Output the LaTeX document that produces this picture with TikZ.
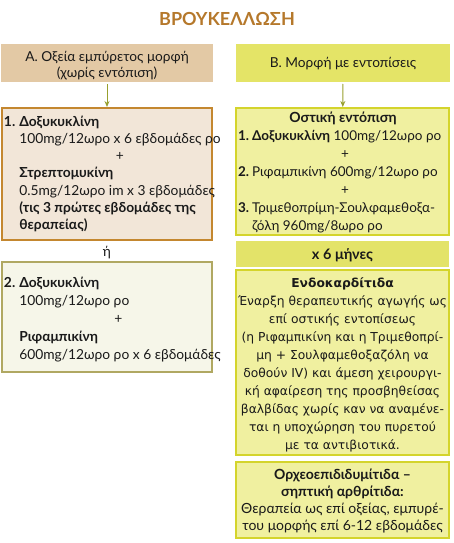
\documentclass[tikz,border=0pt]{standalone}
\usepackage{fontspec}
\setmainfont{Lato}
\newfontfamily\vfont{DejaVu Sans}
\usetikzlibrary{arrows.meta}
\definecolor{titlec}{HTML}{B5782B}
\definecolor{hAfill}{HTML}{E3C9A5}
\definecolor{hBfill}{HTML}{E4E467}
\definecolor{aonefill}{HTML}{F2E6D8}
\definecolor{aonedraw}{HTML}{C4872F}
\definecolor{atwofill}{HTML}{F6F6E9}
\definecolor{atwodraw}{HTML}{B0A862}
\definecolor{bfill}{HTML}{F0F0A0}
\definecolor{bdraw}{HTML}{D4D42C}
\definecolor{bsixfill}{HTML}{E3E369}
\definecolor{arrc}{HTML}{98A02E}
\definecolor{txt}{HTML}{1A1A1A}
\begin{document}
\begin{tikzpicture}[x=1pt,y=-1pt,
  boxshape/.style={rectangle, inner sep=0pt, outer sep=0pt, line width=1.1pt},
  txtnode/.style={inner sep=0pt, outer sep=0pt, text=txt},
  gill/.style={font=\fontsize{13.8}{17.3}\selectfont},
  arr/.style={draw=arrc, line width=1pt, -{Stealth[length=6pt,width=5pt]}, shorten <=2pt, shorten >=1pt}]
\useasboundingbox (0,0) rectangle (454,543);
% title
\node[txtnode, anchor=base, text=titlec, font=\fontsize{18}{20}\selectfont\bfseries] (title) at (227,26) {ΒΡΟΥΚΕΛΛΩΣΗ};
% header boxes
\node[boxshape, fill=hAfill, minimum width=212pt, minimum height=38pt] (hA) at (107,63) {};
\node[boxshape, fill=hBfill, minimum width=214pt, minimum height=38pt] (hB) at (343,63) {};
\node[txtnode, anchor=base, font=\fontsize{13.7}{17}\selectfont] (hAt) at (107,61) {\begin{tabular}[t]{@{}c@{}}Α. Οξεία εμπύρετος μορφή\\(χωρίς εντόπιση)\end{tabular}};
\node[txtnode, anchor=base, font=\fontsize{13.7}{17}\selectfont] (hBt) at (343,67) {Β. Μορφή με εντοπίσεις};
% left boxes
\node[boxshape, draw=aonedraw, fill=aonefill, minimum width=210pt, minimum height=132pt] (a1) at (107,174) {};
\node[boxshape, draw=atwodraw, fill=atwofill, minimum width=210pt, minimum height=110pt] (a2) at (107,317) {};
\node[txtnode, anchor=base west, gill] (a1t) at (4,126) {\begin{tabular}[t]{@{}l@{\hspace{4pt}}l@{}}
\textbf{1.} & \textbf{Δοξυκυκλίνη}\\
 & 100mg/12ωρο x 6 εβδομάδες ρο\\
 & \multicolumn{1}{c}{+}\\
 & \textbf{Στρεπτομυκίνη}\\
 & 0.5mg/12ωρο im x 3 εβδομάδες\\
 & \textbf{(τις 3 πρώτες εβδομάδες της}\\
 & \textbf{θεραπείας)}
\end{tabular}};
\node[txtnode, anchor=base, gill] (or) at (107,256) {ή};
\node[txtnode, anchor=base west, font=\fontsize{13.8}{18}\selectfont] (a2t) at (4,287) {\begin{tabular}[t]{@{}l@{\hspace{4pt}}l@{}}
\textbf{2.} & \textbf{Δοξυκυκλίνη}\\
 & 100mg/12ωρο ρο\\
 & \hspace{95pt}+\\
 & \textbf{Ριφαμπικίνη}\\
 & 600mg/12ωρο ρο x 6 εβδομάδες
\end{tabular}};
% right boxes
\node[boxshape, draw=bdraw, fill=bfill, minimum width=213pt, minimum height=127pt] (b1) at (342.5,171.5) {};
\node[boxshape, fill=bsixfill, minimum width=213pt, minimum height=26pt] (b6) at (342.5,254) {};
\node[boxshape, draw=bdraw, fill=bfill, minimum width=213pt, minimum height=185pt] (bend) at (342.5,362.5) {};
\node[boxshape, draw=bdraw, fill=bfill, minimum width=213pt, minimum height=76pt] (borch) at (342.5,500) {};
\node[txtnode, anchor=base, font=\fontsize{14}{17}\selectfont\bfseries] (b1h) at (343,122) {Οστική εντόπιση};
\node[txtnode, anchor=base west, font=\fontsize{13.5}{18}\selectfont] (b1t) at (238,140) {\begin{tabular}[t]{@{}l@{\hspace{3pt}}l@{}}
\textbf{1.} & \textbf{Δοξυκυκλίνη} 100mg/12ωρο ρο\\
\multicolumn{2}{@{}l}{\hspace{103pt}+}\\
\textbf{2.} & Ριφαμπικίνη 600mg/12ωρο ρο\\
\multicolumn{2}{@{}l}{\hspace{103pt}+}\\
\textbf{3.} & Τριμεθοπρίμη-Σουλφαμεθοξα-\\
 & ζόλη 960mg/8ωρο ρο
\end{tabular}};
\node[txtnode, anchor=base, font=\fontsize{14.5}{17}\selectfont\bfseries] (b6t) at (342.5,259) {x 6 μήνες};
\node[txtnode, anchor=base, font=\vfont\fontsize{12.3}{18}\selectfont] (bendt) at (342.5,287) {\begin{tabular}[t]{@{}c@{}}
\textbf{Ενδοκαρδίτιδα}\\
Έναρξη θεραπευτικής αγωγής ως\\
επί οστικής εντοπίσεως\\
(η Ριφαμπικίνη και η Τριμεθοπρί-\\
μη + Σουλφαμεθοξαζόλη να\\
δοθούν IV) και άμεση χειρουργι-\\
κή αφαίρεση της προσβηθείσας\\
βαλβίδας χωρίς καν να αναμένε-\\
ται η υποχώρηση του πυρετού\\
με τα αντιβιοτικά.
\end{tabular}};
\node[txtnode, anchor=base, font=\fontsize{14}{17.3}\selectfont] (borcht) at (342.5,479) {\begin{tabular}[t]{@{}c@{}}
\textbf{Ορχεοεπιδιδυμίτιδα –}\\
\textbf{σηπτική αρθρίτιδα:}\\
Θεραπεία ως επί οξείας, εμπυρέ-\\
του μορφής επί 6-12 εβδομάδες
\end{tabular}};
% arrows
\draw[arr] (hA) -- (a1);
\draw[arr] (hB) -- (b1);
\end{tikzpicture}
\end{document}
